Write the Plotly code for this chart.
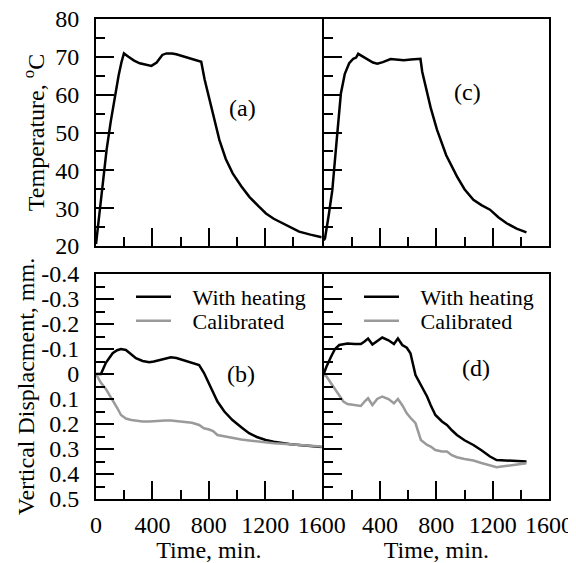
import plotly.graph_objects as go

# ---- data ----
# (a) temperature, test 1
t_a = [0, 40, 75, 105, 134, 160, 180, 198, 230, 270, 310, 350, 393, 430, 470, 499, 540, 569, 620, 664, 710, 746,
       770, 805, 840, 875, 920, 969, 1030, 1087, 1150, 1205, 1260, 1322, 1380, 1440, 1520, 1600]
T_a = [20.5, 33, 45.4, 53, 59.5, 65, 68.5, 70.9, 70, 69, 68.3, 67.9, 67.6, 68.5, 70.5, 70.9, 70.9, 70.7, 70.1, 69.6, 69.1, 68.7,
       64, 58.6, 53, 48, 43, 39.2, 35.8, 33, 30.6, 28.6, 27.2, 26, 24.9, 23.8, 23, 22.3]

# (c) temperature, test 2
t_c = [0, 9, 35, 61, 90, 122, 150, 181, 210, 230, 245, 280, 311, 350, 381, 420, 475, 520, 569, 620, 687,
       700, 722, 760, 805, 870, 946, 1000, 1063, 1120, 1181, 1240, 1299, 1370, 1440]
T_c = [21.5, 22, 28, 34.7, 47, 60.3, 65.5, 68.3, 69.5, 69.8, 70.8, 70.1, 69.4, 68.5, 68.2, 68.6, 69.4, 69.3, 69.1, 69.3, 69.5,
       66, 62.2, 56.5, 50.7, 44, 38.4, 35, 32.2, 30.8, 29.6, 27.6, 26, 24.6, 23.6]

# (b) vertical displacement, test 1
t_b = [0, 35, 70, 118, 150, 177, 212, 250, 283, 330, 378, 410, 448, 490, 531, 570, 613, 680, 731, 765, 802, 830, 861,
       910, 967, 1030, 1085, 1140, 1203, 1260, 1321, 1380, 1439, 1520, 1600]
d_b_heat = [0, 0, -0.045, -0.083, -0.095, -0.1, -0.096, -0.08, -0.063, -0.052, -0.047, -0.05, -0.056, -0.062, -0.067, -0.064, -0.056,
            -0.046, -0.036, -0.005, 0.037, 0.075, 0.11, 0.15, 0.184, 0.213, 0.237, 0.252, 0.264, 0.271, 0.277, 0.281, 0.284, 0.288, 0.292]
d_b_cal = [0, 0.035, 0.06, 0.104, 0.135, 0.164, 0.178, 0.184, 0.187, 0.19, 0.19, 0.188, 0.188, 0.186, 0.186, 0.188, 0.19,
           0.195, 0.204, 0.217, 0.222, 0.228, 0.244, 0.25, 0.257, 0.262, 0.266, 0.27, 0.274, 0.277, 0.279, 0.282, 0.284, 0.287, 0.29]

# (d) vertical displacement, test 2
t_d = [0, 20, 52, 80, 111, 140, 169, 220, 264, 290, 315, 346, 380, 416, 460, 499, 527, 558, 590, 616, 652, 690,
       734, 760, 793, 840, 875, 910, 946, 1000, 1063, 1120, 1181, 1228, 1290, 1346, 1400, 1440]
d_d_heat = [0, -0.03, -0.069, -0.1, -0.116, -0.12, -0.122, -0.12, -0.12, -0.13, -0.142, -0.118, -0.13, -0.146, -0.135, -0.12, -0.142, -0.116,
            -0.105, -0.083, 0.004, 0.045, 0.09, 0.125, 0.164, 0.19, 0.204, 0.225, 0.244, 0.265, 0.284, 0.305, 0.33, 0.344, 0.346, 0.346, 0.348, 0.35]
d_d_cal = [0.004, 0.01, 0.037, 0.06, 0.085, 0.11, 0.12, 0.125, 0.128, 0.11, 0.097, 0.124, 0.1, 0.09, 0.1, 0.117, 0.1, 0.125,
           0.157, 0.175, 0.197, 0.264, 0.284, 0.29, 0.304, 0.31, 0.31, 0.325, 0.333, 0.34, 0.346, 0.356, 0.365, 0.373, 0.368, 0.364, 0.36, 0.357]

time_ticks = [0, 400, 800, 1200, 1600]
time_labels_left = ["0", "400", "800", "1200", "1600"]
time_labels_right = ["", "400", "800", "1200", "1600"]
temp_ticks = [20, 30, 40, 50, 60, 70, 80]
disp_ticks = [-0.4, -0.3, -0.2, -0.1, 0, 0.1, 0.2, 0.3, 0.4, 0.5]
disp_labels = ["-0.4", "-0.3", "-0.2", "-0.1", "0", "0.1", "0.2", "0.3", "0.4", "0.5"]

series_names = ["\u00a0\u00a0\u00a0With heating", "\u00a0\u00a0\u00a0Calibrated"]
panel_labels = ["(a)", "(b)", "(c)", "(d)"]

BLACK = "#000000"
GRAY = "#9a9a9a"
FONT = "Liberation Serif, Times New Roman, serif"
FS = 24      # ticks, titles, panel labels
FS_LEG = 22  # legend

# the page body has an 8px margin; figure placed at (8, 8)
W, H = 568, 555
OFF = 8
def fx(px):
    return (px - OFF) / W
def fy(py):
    return 1 - (py - OFF) / H

# axis lines are drawn just outside the domain, so leave a 2px seam so the
# shared middle border collapses into one line
xl = [fx(96), fx(321.7)]
xr = [fx(323.7), fx(549)]
yt = [fy(246), fy(19)]
yb = [fy(499), fy(274)]

fig = go.Figure()

fig.add_trace(go.Scatter(x=t_a, y=T_a, mode="lines", line=dict(color=BLACK, width=2.5),
                         showlegend=False, xaxis="x", yaxis="y"))
fig.add_trace(go.Scatter(x=t_c, y=T_c, mode="lines", line=dict(color=BLACK, width=2.5),
                         showlegend=False, xaxis="x2", yaxis="y2"))
fig.add_trace(go.Scatter(x=t_b, y=d_b_heat, mode="lines", name=series_names[0],
                         line=dict(color=BLACK, width=2.5), xaxis="x3", yaxis="y3", legend="legend"))
fig.add_trace(go.Scatter(x=t_b, y=d_b_cal, mode="lines", name=series_names[1],
                         line=dict(color=GRAY, width=2.5), xaxis="x3", yaxis="y3", legend="legend2"))
fig.add_trace(go.Scatter(x=t_d, y=d_d_heat, mode="lines", name=series_names[0],
                         line=dict(color=BLACK, width=2.5), xaxis="x4", yaxis="y4", legend="legend3"))
fig.add_trace(go.Scatter(x=t_d, y=d_d_cal, mode="lines", name=series_names[1],
                         line=dict(color=GRAY, width=2.5), xaxis="x4", yaxis="y4", legend="legend4"))

common = dict(showline=True, linecolor="black", linewidth=2, mirror=True, showgrid=False, zeroline=False,
              ticks="inside", ticklen=18, tickwidth=1.5, tickcolor="black", ticklabeloverflow="allow",
              tickfont=dict(family=FONT, size=FS, color="black"), automargin=False)
minor_style = dict(ticks="inside", ticklen=9, tickwidth=1.5, tickcolor="black", tickmode="linear")

def xaxis(domain, anchor, labels, show_labels):
    return dict(common, domain=domain, anchor=anchor, range=[0, 1600], tickmode="array",
                tickvals=time_ticks, ticktext=labels, showticklabels=show_labels, ticklabelstandoff=3,
                minor=dict(minor_style, tick0=0, dtick=200))

def tempaxis(domain, anchor, show_labels, title=None):
    d = dict(common, domain=domain, anchor=anchor, range=[20, 80], tickmode="array", tickvals=temp_ticks,
             showticklabels=show_labels, ticklabelstandoff=10,
             minor=dict(minor_style, tick0=20, dtick=5))
    if title:
        d["title"] = dict(text=title, font=dict(family=FONT, size=FS, color="black"), standoff=4)
    return d

def dispaxis(domain, anchor, show_labels, title=None):
    d = dict(common, domain=domain, anchor=anchor, range=[0.5, -0.4], tickmode="array", tickvals=disp_ticks,
             ticktext=disp_labels, showticklabels=show_labels, ticklabelstandoff=10,
             minor=dict(minor_style, tick0=0, dtick=0.05))
    if title:
        d["title"] = dict(text=title, font=dict(family=FONT, size=FS, color="black"), standoff=0)
    return d

x3 = xaxis(xl, "y3", time_labels_left, True)
x3["title"] = dict(text="Time, min.", font=dict(family=FONT, size=FS, color="black"), standoff=0)
x4 = xaxis(xr, "y4", time_labels_right, True)
x4["title"] = dict(text="Time, min.", font=dict(family=FONT, size=FS, color="black"), standoff=0)

legend_common = dict(font=dict(family=FONT, size=FS_LEG, color="black"), bgcolor="rgba(0,0,0,0)",
                     borderwidth=0, itemwidth=35, xanchor="left", yanchor="top")
LEG_DY = 22  # legend top above item centre

fig.update_layout(
    width=W, height=H, margin=dict(l=0, r=0, t=0, b=0),
    paper_bgcolor="white", plot_bgcolor="white",
    font=dict(family=FONT, size=FS, color="black"),
    xaxis=xaxis(xl, "y", time_labels_left, False),
    yaxis=tempaxis(yt, "x", True, "Temperature, <sup>o</sup>C"),
    xaxis2=xaxis(xr, "y2", time_labels_right, False),
    yaxis2=tempaxis(yt, "x2", False),
    xaxis3=x3,
    yaxis3=dispaxis(yb, "x3", True, "Vertical Displacment, mm."),
    xaxis4=x4,
    yaxis4=dispaxis(yb, "x4", False),
    legend=dict(legend_common, x=fx(131), y=fy(298 - LEG_DY)),
    legend2=dict(legend_common, x=fx(131), y=fy(322 - LEG_DY)),
    legend3=dict(legend_common, x=fx(359), y=fy(298 - LEG_DY)),
    legend4=dict(legend_common, x=fx(359), y=fy(322 - LEG_DY)),
    showlegend=True,
)

label_pos = [("x", "y", 1036, 56.5), ("x3", "y3", 1027, 0.0), ("x2", "y2", 1024, 60.7), ("x4", "y4", 1085, -0.024)]
for lab, (xa, ya, xv, yv) in zip(panel_labels, label_pos):
    fig.add_annotation(x=xv, y=yv, xref=xa, yref=ya, text=lab, showarrow=False,
                       font=dict(family=FONT, size=FS, color="black"))

fig.write_html("out.html")
